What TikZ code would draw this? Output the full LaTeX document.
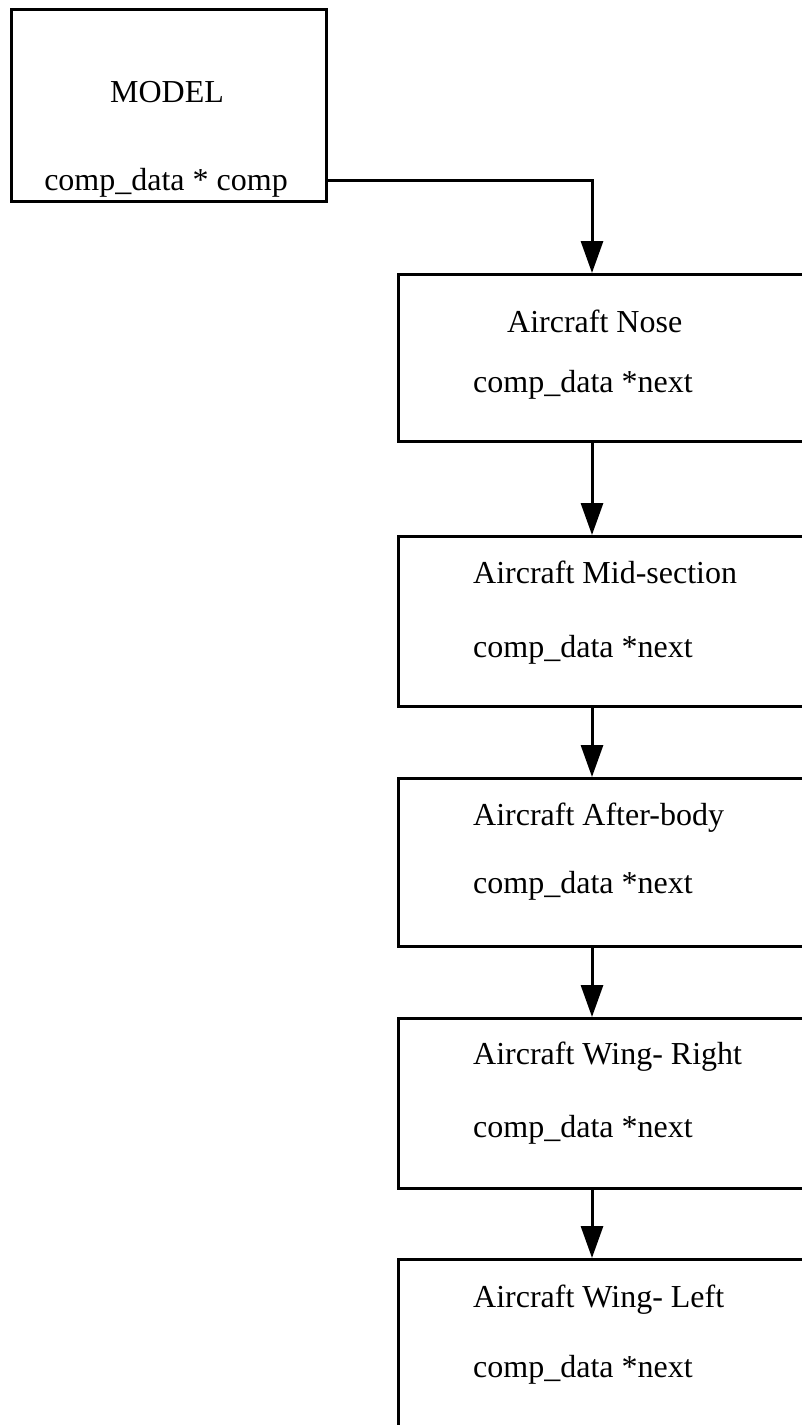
\documentclass[tikz,border=0pt]{standalone}
\usepackage{fontspec}
\setmainfont{Liberation Serif}
\usetikzlibrary{arrows.meta}
\begin{document}
\begin{tikzpicture}[x=1pt,y=-1pt,
  box/.style={draw,line width=3pt,rectangle,inner sep=0pt,anchor=north west,minimum width=460pt},
  lbl/.style={anchor=base west,inner sep=0pt,font=\fontsize{32}{38}\selectfont},
  link/.style={line width=3pt,-{Triangle[length=32pt,width=22pt]}}]
\useasboundingbox (0,0) rectangle (802,1425);
\clip (0,0) rectangle (802,1425);

% the model record
\node[box,minimum width=315pt,minimum height=192pt] (model) at (10,8) {};
\node[lbl,anchor=base] (modelname) at (167,102) {MODEL};
\node[lbl,anchor=base] (modelptr) at (166,190) {comp\_data * comp};

% linked list of components
\node[box,minimum height=167pt] (nose) at (397,273) {};
\node[box,minimum height=170pt] (mid) at (397,535) {};
\node[box,minimum height=168pt] (after) at (397,777) {};
\node[box,minimum height=170pt] (wingr) at (397,1017) {};
\node[box,minimum height=200pt] (wingl) at (397,1258) {};

\node[lbl] (nosename) at (507,332) {Aircraft Nose};
\node[lbl] (noseptr) at (473,392) {comp\_data *next};
\node[lbl] (midname) at (473,583) {Aircraft Mid-section};
\node[lbl] (midptr) at (473,657) {comp\_data *next};
\node[lbl] (aftername) at (473,825) {Aircraft After-body};
\node[lbl] (afterptr) at (473,893) {comp\_data *next};
\node[lbl] (wingrname) at (473,1064) {Aircraft Wing- Right};
\node[lbl] (wingrptr) at (473,1137) {comp\_data *next};
\node[lbl] (winglname) at (473,1307) {Aircraft Wing- Left};
\node[lbl] (winglptr) at (473,1377) {comp\_data *next};

% pointer links
\coordinate (col) at (592,0);
\draw[link] ([yshift=23pt]model.south east) -| (nose.north -| col);
\draw[link] (nose.south -| col) -- (mid.north -| col);
\draw[link] (mid.south -| col) -- (after.north -| col);
\draw[link] (after.south -| col) -- (wingr.north -| col);
\draw[link] (wingr.south -| col) -- (wingl.north -| col);
\end{tikzpicture}
\end{document}
